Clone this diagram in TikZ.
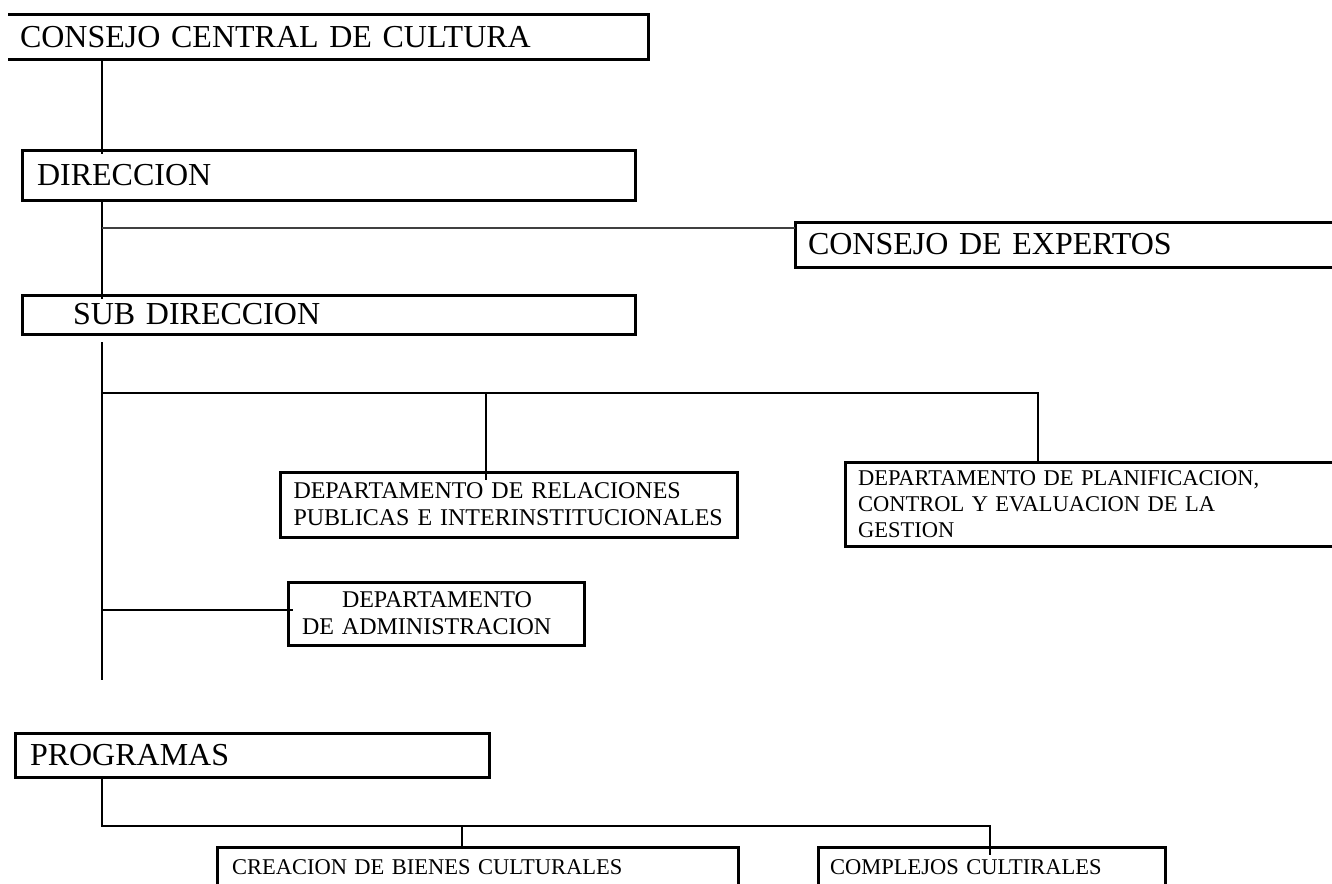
\documentclass[tikz,border=0pt]{standalone}
\usepackage{fontspec}
\setmainfont{Liberation Serif}
\newcommand{\largetxt}{\fontsize{32}{37}\selectfont}
\newcommand{\smalltxt}{\fontsize{24}{27}\selectfont}
\newcommand{\tinytxt}{\fontsize{22.5}{26}\selectfont}
\begin{document}
\begin{tikzpicture}[x=1pt,y=-1pt,inner sep=0pt,outer sep=0pt,line width=2.2pt,
orgbox/.style={draw,rectangle,line width=3pt,align=left,inner ysep=0pt},
bigbox/.style={orgbox,font=\largetxt},
deptbox/.style={orgbox,font=\smalltxt},
progbox/.style={orgbox,font=\tinytxt}]

\useasboundingbox (0,0) rectangle (1332,883);
\clip (0,0) rectangle (1332,883);

\draw (328,37.5) node[bigbox,draw=none,inner xsep=12pt,text width=616pt,minimum height=45pt] (cc) {CONSEJO CENTRAL DE CULTURA};
\draw[line width=3pt] (cc.north west) -- (cc.north east) -- (cc.south east) -- (cc.south west);
\draw (328.5,175) node[bigbox,inner xsep=15pt,text width=583pt,minimum height=50pt] (dir) {DIRECCION};
\draw (1070,244.5) node[bigbox,inner xsep=13pt,text width=524pt,minimum height=45pt] (ce) {CONSEJO DE EXPERTOS};
\draw (328.5,314.5) node[bigbox,inner xsep=15pt,text width=583pt,minimum height=39pt] (sub) {\hspace*{36pt}SUB DIRECCION};

\draw (508.5,504.5) node[deptbox,inner xsep=13.5pt,text width=430pt,minimum height=65pt] (rel) {DEPARTAMENTO DE RELACIONES\\PUBLICAS E INTERINSTITUCIONALES};
\draw (1095,504) node[progbox,inner xsep=13pt,text width=474pt,minimum height=84pt] (plan) {DEPARTAMENTO DE PLANIFICACION,\\CONTROL Y EVALUACION DE LA\\GESTION};
\draw (436,613.5) node[deptbox,inner xsep=14pt,text width=268pt,minimum height=63pt] (adm) {\hspace*{40pt}DEPARTAMENTO\\DE ADMINISTRACION};

\draw (252,755) node[bigbox,inner xsep=15pt,text width=444pt,minimum height=44pt] (prog) {PROGRAMAS};
\draw (477.5,867) node[progbox,inner xsep=15pt,text width=491pt,minimum height=40pt] (crea) {CREACION DE BIENES CULTURALES};
\draw (991.5,867) node[progbox,inner xsep=12pt,text width=323pt,minimum height=40pt] (comp) {COMPLEJOS CULTIRALES};

\coordinate (jce) at (102,228);
\coordinate (jdep) at (102,393);
\coordinate (jadm) at (102,610);
\coordinate (tend) at (102,680);
\coordinate (brel) at (486,393);
\coordinate (bplan) at (1038,393);
\coordinate (jprog) at (102,826);
\coordinate (bcrea) at (462,826);
\coordinate (bcomp) at (990,826);

\draw (jce |- cc.south) -- ([yshift=-4pt]jce |- dir.north);
\draw (jce |- dir.south) -- ([yshift=-4pt]jce |- sub.north);
\draw[black!75,line width=2.6pt] (jce) -- (jce -| ce.west);
\draw ([yshift=-8pt]jce |- sub.south) -- (tend);
\draw (jdep) -- (bplan) -- ([yshift=-2pt]bplan |- plan.north);
\draw (brel) -- ([yshift=-8pt]brel |- rel.north);
\draw (jadm) -- ([xshift=5pt]jadm -| adm.west);
\draw (jprog |- prog.south) -- (jprog) -- (bcomp) -- ([yshift=-8pt]bcomp |- comp.north);
\draw (bcrea) -- (bcrea |- crea.north);
\end{tikzpicture}
\end{document}
